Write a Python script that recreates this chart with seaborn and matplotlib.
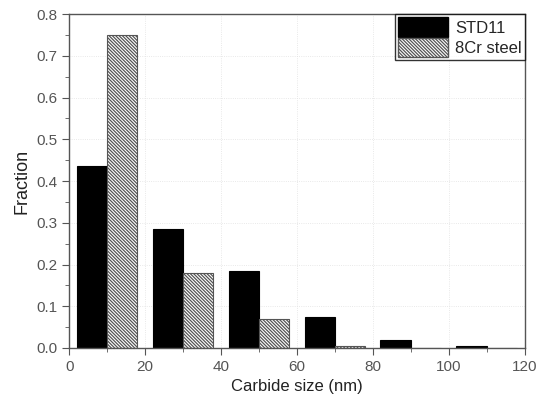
import matplotlib
matplotlib.use("Agg")
import matplotlib.pyplot as plt
import seaborn as sns
import pandas as pd
from matplotlib.patches import Patch

bin_centers = [10, 30, 50, 70, 90, 110]
std11 = [0.435, 0.285, 0.185, 0.075, 0.02, 0.005]
cr8 = [0.75, 0.18, 0.07, 0.005, 0.0, 0.0]
series = ["STD11", "8Cr steel"]

df = pd.DataFrame({
    "size": bin_centers * 2,
    "frac": std11 + cr8,
    "steel": [series[0]] * len(bin_centers) + [series[1]] * len(bin_centers),
})

sns.set_style("ticks")
plt.rcParams["font.family"] = ["Liberation Sans", "DejaVu Sans"]
plt.rcParams["hatch.linewidth"] = 0.9
HATCH = "\\" * 10

fig = plt.figure(figsize=(5.36, 4.03), dpi=100)
ax = fig.add_axes([0.129, 0.1365, 0.850, 0.8285])

sns.barplot(data=df, x="size", y="frac", hue="steel", native_scale=True,
            palette=["black", "white"], edgecolor="black", linewidth=0.8,
            width=0.8, ax=ax, legend=False, errorbar=None)

for p in ax.patches:
    if p.get_facecolor()[0] > 0.5:
        p.set_hatch(HATCH)
        p.set_edgecolor("#555555")

ax.set_xlim(0, 120)
ax.set_ylim(0, 0.8)
ax.set_xticks([0, 20, 40, 60, 80, 100, 120])
ax.set_xticks(range(10, 120, 20), minor=True)
yt = [0.0, 0.1, 0.2, 0.3, 0.4, 0.5, 0.6, 0.7, 0.8]
ax.set_yticks(yt)
ax.set_yticks([0.05 + 0.1 * i for i in range(8)], minor=True)
ax.set_yticklabels([f"{v:.1f}" for v in yt])
ax.grid(True, which="major", linestyle=":", color="#e2e2e2", linewidth=0.6)
ax.set_axisbelow(True)

for s in ax.spines.values():
    s.set_color("#555555")
    s.set_linewidth(1.0)
ax.tick_params(axis="both", which="major", direction="out", length=5, color="#555555",
               labelcolor="#555555", labelsize=11)
ax.tick_params(axis="both", which="minor", direction="out", length=3, color="#555555")

ax.set_xlabel("Carbide size (nm)", fontsize=12, color="#222222")
ax.set_ylabel("Fraction", fontsize=13, color="#222222")

handles = [Patch(facecolor="black", edgecolor="black"),
           Patch(facecolor="white", edgecolor="#555555", hatch=HATCH)]
leg = ax.legend(handles, series, loc="upper right", frameon=True, fancybox=False,
                edgecolor="black", fontsize=12, handlelength=3.0, handleheight=1.4,
                handletextpad=0.4, borderpad=0.2, labelspacing=0.05,
                borderaxespad=0.0)
leg.get_frame().set_linewidth(1.0)

fig.savefig("out.png", dpi=100)
